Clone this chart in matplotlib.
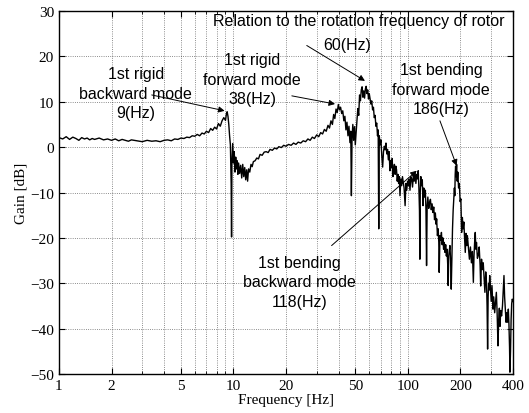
import numpy as np
import matplotlib
matplotlib.use('Agg')
import matplotlib.pyplot as plt
from matplotlib.ticker import LogLocator, NullFormatter

low_hz = [1.0, 1.05, 1.1, 1.15, 1.2, 1.25, 1.3, 1.35, 1.4, 1.45, 1.5, 1.55, 1.6, 1.7, 1.8,
          1.9, 2.0, 2.1, 2.2, 2.3, 2.4, 2.5, 2.6, 2.8, 3.0, 3.2, 3.4, 3.6, 3.8, 4.0,
          4.2, 4.4, 4.6, 4.8, 5.0, 5.2, 5.4, 5.6, 5.8, 6.0]
low_db = [2.1, 1.8, 2.3, 1.7, 2.2, 1.9, 1.5, 2.1, 1.8, 2.0, 1.6, 1.9, 1.7, 2.0, 1.6,
          1.8, 1.5, 1.8, 1.4, 1.7, 1.5, 1.3, 1.6, 1.4, 1.2, 1.5, 1.3, 1.4, 1.2, 1.5,
          1.6, 1.4, 1.8, 1.7, 2.0, 1.9, 2.2, 2.1, 2.5, 2.4]

bwd_hz = [6.2, 6.4, 6.6, 6.8, 7.0, 7.2, 7.4, 7.6, 7.8, 8.0, 8.2, 8.4, 8.6, 8.8, 9.0,
          9.1, 9.2, 9.3, 9.4, 9.5, 9.6, 9.7, 9.75, 9.8, 9.9, 10.0, 10.1, 10.2, 10.3, 10.4,
          10.5, 10.6, 10.7, 10.85, 11.0, 11.15, 11.3, 11.45, 11.6, 11.75, 11.9, 12.05, 12.2, 12.4, 12.6,
          12.8, 13.0]
bwd_db = [2.8, 2.5, 3.1, 2.9, 3.5, 3.2, 4.1, 3.7, 4.4, 4.0, 5.2, 4.6, 5.8, 6.5, 5.9,
          7.2, 7.8, 6.8, 5.0, 2.5, 0.5, -8.0, -19.8, -3.0, 0.8, -3.5, -1.0, -5.5, -2.2, -4.8,
          -3.0, -6.0, -3.5, -5.8, -4.0, -6.8, -3.8, -6.5, -4.5, -7.2, -5.0, -7.5, -4.8, -5.5, -3.8,
          -4.3, -3.2]

mid_hz = [13.3, 13.6, 13.9, 14.2, 14.6, 15.0, 15.4, 15.8, 16.2, 16.7, 17.2, 17.7, 18.2, 18.8, 19.4,
          20.0, 20.7, 21.4, 22.1, 22.8, 23.5, 24.3, 25.1, 25.9, 26.7, 27.5, 28.3, 29.1, 30.0, 30.8,
          31.6, 32.4]
mid_db = [-3.0, -2.4, -2.6, -1.6, -1.8, -1.1, -1.0, -1.2, -0.5, -0.7, -0.2, -0.4, 0.1, -0.1, 0.4,
          0.2, 0.6, 0.4, 0.9, 0.6, 1.1, 0.9, 1.4, 1.2, 1.8, 1.5, 2.2, 1.9, 2.7, 2.3,
          3.2, 2.9]

fwd_hz = [33.2, 34.0, 34.8, 35.5, 36.2, 36.9, 37.5, 38.1, 38.7, 39.3, 39.9, 40.5, 41.1, 41.7, 42.3,
          42.9, 43.5, 44.1, 44.7, 45.3, 45.9, 46.5, 47.0, 47.4, 47.8, 48.3]
fwd_db = [3.9, 3.5, 4.8, 4.2, 5.8, 5.0, 7.2, 6.3, 8.4, 7.6, 9.4, 8.2, 8.8, 7.4, 8.0,
          5.8, 6.8, 3.8, 5.5, 2.5, 4.6, 1.0, 3.5, -10.7, 2.0, 5.0]

rot_hz = [48.8, 49.4, 49.9, 50.5, 51.0, 51.6, 52.2, 52.8, 53.4, 54.0, 54.6, 55.2, 55.8, 56.4, 57.0,
          57.6, 58.2, 58.8, 59.4, 60.0, 60.6, 61.3, 62.0, 62.7, 63.4, 64.1, 64.8, 65.5, 66.2, 66.9,
          67.5, 68.0, 68.5]
rot_db = [1.5, 4.5, 0.5, 3.5, 5.8, 8.5, 7.0, 11.5, 10.2, 12.6, 13.3, 11.0, 12.4, 10.8, 12.8,
          13.4, 11.8, 12.6, 10.6, 11.8, 10.8, 9.5, 10.2, 8.2, 8.8, 6.5, 7.0, 4.6, 5.3, 2.5,
          3.8, -18.0, 2.5]

dec_hz = [69.2, 70.0, 70.8, 71.6, 72.4, 73.2, 74.0, 74.8, 75.6, 76.4, 77.2, 78.0, 78.8, 79.6, 80.4,
          81.2, 82.0, 82.8, 83.6, 84.4, 85.2, 86.0, 86.8, 87.6, 88.4, 89.2, 90.0]
dec_db = [0.5, 1.6, -2.0, -4.4, -1.0, 0.2, -0.6, 0.9, -1.5, -0.5, -2.8, -1.0, -5.2, -3.0, -4.5,
          -2.5, -6.5, -5.0, -3.8, -6.0, -4.2, -5.0, -7.5, -6.0, -8.0, -6.5, -10.7]

bend_hz = [91.0, 92.0, 93.0, 94.0, 95.0, 96.3, 97.3, 98.4, 99.5, 100.5, 101.6, 102.7, 103.8, 105.0, 106.2,
           107.4, 108.6, 109.8, 111.0, 112.2, 113.4, 114.5, 115.5, 116.4, 117.0, 117.6, 118.5, 119.6, 120.8, 122.0,
           123.2, 124.5, 125.8, 126.8, 127.8, 128.8, 130.0, 131.5, 133.0, 134.5, 136.0, 137.5, 139.0, 140.5, 142.0,
           143.5, 145.0, 146.0, 147.5, 149.0, 150.2, 151.0, 152.5, 154.0, 155.5, 157.0, 158.5, 160.0, 161.5, 163.0,
           164.5, 166.0, 167.5, 169.0, 170.0, 171.2, 172.5, 174.0, 175.5, 177.0, 178.5, 180.0, 181.5, 183.0, 184.5,
           185.5, 186.5, 187.5, 188.5]
bend_db = [-7.0, -8.5, -6.5, -7.8, -9.0, -12.9, -8.0, -9.5, -7.5, -8.5, -7.0, -9.5, -6.5, -7.0, -8.8,
           -6.2, -7.5, -5.6, -8.0, -6.0, -7.0, -5.2, -9.0, -14.0, -24.7, -10.0, -6.5, -8.5, -7.2, -12.9,
           -9.0, -11.0, -9.5, -14.0, -26.1, -13.0, -11.0, -13.5, -12.2, -11.5, -13.8, -12.5, -14.4, -13.2, -16.0,
           -14.5, -17.0, -15.8, -19.5, -18.0, -21.0, -27.6, -19.5, -20.5, -18.8, -21.5, -20.0, -22.5, -21.0, -23.2,
           -21.5, -24.0, -22.5, -26.0, -30.5, -24.0, -22.8, -21.7, -25.0, -31.3, -24.0, -18.0, -14.0, -11.5, -9.0,
           -10.7, -6.0, -4.2, -6.5]

high_hz = [190, 191.5, 193, 195, 197, 199, 201, 203, 205, 207, 209, 211, 213, 215, 217,
           219, 222, 225, 228, 231, 234, 237, 239, 241, 243, 245, 247, 250, 253, 256,
           259, 261, 264, 267, 270, 273, 276, 279, 282, 284, 286, 288, 290, 292, 294,
           297, 300, 303, 307, 310, 314, 318, 321, 324, 326, 328, 331, 334, 337, 340,
           344, 348, 352, 355, 358, 362, 365, 368, 372, 376, 379, 382, 384, 387, 390,
           393, 396, 400]
high_db = [-3.8, -7.5, -5.5, -9.0, -8.0, -12.0, -11.4, -18.8, -15.5, -18.0, -16.5, -20.0, -23.2, -19.0, -21.7,
           -19.5, -22.0, -24.7, -22.0, -25.5, -23.0, -29.8, -24.0, -21.0, -18.8, -22.5, -21.0, -24.5, -23.9, -22.0,
           -26.0, -30.6, -24.7, -27.0, -25.5, -29.0, -32.0, -27.5, -30.0, -35.0, -44.5, -33.0, -30.0, -31.5, -28.3,
           -31.0, -34.0, -30.5, -35.7, -33.0, -36.5, -34.0, -32.0, -36.0, -40.0, -43.8, -38.0, -35.5, -39.5, -36.0,
           -37.2, -35.0, -31.0, -28.3, -33.0, -36.0, -38.6, -36.5, -38.6, -35.7, -39.0, -44.0, -49.6, -45.0, -38.0,
           -34.5, -33.5, -34.0]

x_ticks = [1, 2, 5, 10, 20, 50, 100, 200, 400]
x_tick_labels = ['1', '2', '5', '10', '20', '50', '100', '200', '400']
y_ticks = [-50, -40, -30, -20, -10, 0, 10, 20, 30]

freq = np.concatenate([low_hz, bwd_hz, mid_hz, fwd_hz, rot_hz, dec_hz, bend_hz, high_hz])
gain = np.concatenate([low_db, bwd_db, mid_db, fwd_db, rot_db, dec_db, bend_db, high_db])

plt.rcParams['font.family'] = 'Liberation Serif'

fig = plt.figure(figsize=(5.29, 4.14), dpi=100)
ax = fig.add_axes([0.1115, 0.0942, 0.8583, 0.8768])

ax.semilogx(freq, gain, color='k', lw=1.0)
ax.set_xlim(1, 400)
ax.set_ylim(-50, 30)
ax.set_xticks(x_ticks)
ax.set_xticklabels(x_tick_labels)
ax.xaxis.set_minor_locator(LogLocator(base=10, subs=np.arange(2, 10), numticks=20))
ax.xaxis.set_minor_formatter(NullFormatter())
ax.set_yticks(y_ticks)

ax.grid(True, which='both', axis='x', ls=':', color='k', lw=0.6, alpha=0.6)
ax.grid(True, which='major', axis='y', ls=':', color='k', lw=0.6, alpha=0.6)
ax.tick_params(which='both', direction='in', top=True, right=True, labelsize=11)
ax.tick_params(which='major', length=4)
ax.tick_params(which='minor', length=2)
for s in ax.spines.values():
    s.set_linewidth(1.0)

ax.set_xlabel('Frequency [Hz]', fontsize=11, labelpad=1)
ax.set_ylabel('Gain [dB]', fontsize=11, labelpad=2)

# annotations
txt = dict(family='Liberation Sans', fontsize=11.5, ha='center', va='center', linespacing=1.35)
arr = dict(arrowstyle='-|>', color='k', lw=0.7, mutation_scale=9, shrinkA=0, shrinkB=0)

ax.text(2.75, 11.9, '1st rigid\nbackward mode\n9(Hz)', **txt)
ax.annotate('', xy=(8.9, 8.0), xytext=(3.4, 11.5), arrowprops=arr)

ax.text(12.8, 15.0, '1st rigid\nforward mode\n38(Hz)', **txt)
ax.annotate('', xy=(38.2, 9.5), xytext=(21.6, 11.3), arrowprops=arr)

ax.text(52.0, 27.8, 'Relation to the rotation frequency of rotor', **txt)
ax.text(44.7, 22.7, '60(Hz)', **txt)
ax.annotate('', xy=(56.7, 14.6), xytext=(26.3, 22.4), arrowprops=arr)

ax.text(154.6, 12.8, '1st bending\nforward mode\n186(Hz)', **txt)
ax.annotate('', xy=(190, -4.1), xytext=(152.5, 5.8), arrowprops=arr)

ax.text(24.0, -29.7, '1st bending\nbackward mode\n118(Hz)', **txt)
ax.annotate('', xy=(112.2, -5.2), xytext=(36.5, -21.7), arrowprops=arr)

fig.savefig('out.png', dpi=100)
